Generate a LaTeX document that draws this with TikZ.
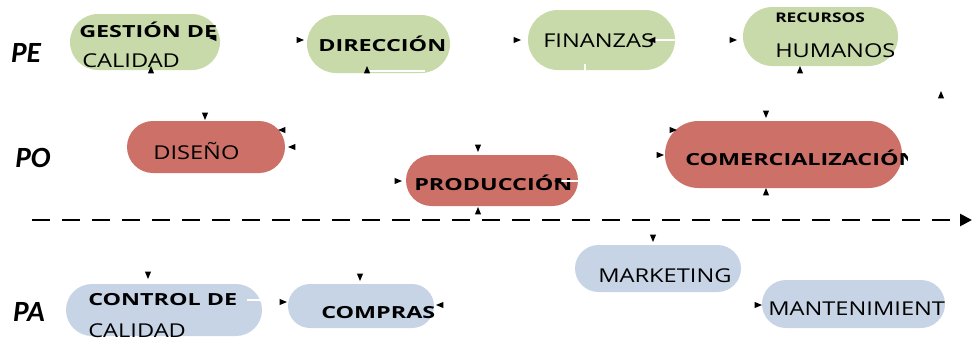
\documentclass[tikz,border=0pt]{standalone}
\usepackage{fontspec}
\setmainfont{Open Sans}
\newfontfamily\lanefont{Carlito}
\usetikzlibrary{shapes.misc,arrows.meta}
\definecolor{peGreen}{RGB}{200,218,170}
\definecolor{poRed}{RGB}{204,112,104}
\definecolor{paBlue}{RGB}{199,212,229}
\begin{document}
\begin{tikzpicture}[x=0.75pt,y=-0.75pt,
  pill/.style={rounded rectangle, draw=none, inner sep=0pt},
  pegreen/.style={pill, fill=peGreen},
  pored/.style={pill, fill=poRed},
  pablue/.style={pill, fill=paBlue},
  lane/.style={font=\lanefont\bfseries\itshape\fontsize{22}{22}\selectfont, inner sep=0pt},
  txt/.style={font=\addfontfeature{FakeStretch=1.24}\fontsize{14.3}{14}\selectfont, inner sep=0pt, anchor=base west},
  btxt/.style={font=\bfseries\addfontfeature{FakeStretch=1.4}\fontsize{12.5}{12}\selectfont, inner sep=0pt, anchor=base west},
  whiteline/.style={draw=white, line width=1.5pt},
  axis/.style={line width=2pt, dash pattern=on 13.5pt off 9pt, -{Triangle[length=9pt,width=9pt]}},
  tipm/.pic={\fill (3pt,0pt) -- (-2.5pt,2.3pt) -- (-2.5pt,-2.3pt) -- cycle;}
]
\useasboundingbox (0,0) rectangle (972,337);

% lane labels
\node[lane] (lPE) at (26,53) {PE};
\node[lane] (lPO) at (33,158) {PO};
\node[lane] (lPA) at (29,312) {PA};

% time axis
\coordinate (axisL) at (32,220);
\coordinate (axisR) at (972,220);
\draw[axis] (axisL) -- (axisR);

% strategic processes
\node[pegreen, minimum width=112.5pt, minimum height=42pt] (gestion) at (145,42) {};
\node[pegreen, minimum width=107.25pt, minimum height=43.5pt] (direccion) at (378.5,44) {};
\node[pegreen, minimum width=110.25pt, minimum height=45pt] (finanzas) at (601.5,40) {};
\node[pegreen, minimum width=116.25pt, minimum height=44.25pt] (recursos) at (820.5,36.5) {};

% operative processes
\node[pored, minimum width=118.5pt, minimum height=39pt] (diseno) at (206,147) {};
\node[pored, minimum width=129pt, minimum height=38.25pt] (produccion) at (492,180.5) {};
\node[pored, minimum width=177.75pt, minimum height=50.25pt] (comercial) at (783.5,154.5) {};

% support processes
\node[pablue, minimum width=147pt, minimum height=39pt] (control) at (164,310) {};
\node[pablue, minimum width=109.5pt, minimum height=33pt] (compras) at (361,306) {};
\node[pablue, minimum width=124.5pt, minimum height=35.25pt] (marketing) at (658,268.5) {};
\node[pablue, minimum width=137.25pt, minimum height=36pt] (manten) at (853.5,304) {};

% labels
\node[btxt] (tGes1) at (79,37) {GESTIÓN DE};
\node[txt] (tGes2) at (82,67) {CALIDAD};
\begin{scope}
  \clip (300,0) rectangle (452,100);
  \node[btxt] (tDir) at (318,51) {DIRECCIÓN};
\end{scope}
\node[txt] (tFin) at (543,47) {FINANZAS};
\node[btxt, font=\bfseries\addfontfeature{FakeStretch=1.3}\fontsize{10}{10}\selectfont] (tRec1) at (775,22) {RECURSOS};
\node[txt] (tRec2) at (775,57) {HUMANOS};
\node[txt] (tDis) at (153,159) {DISEÑO};
\begin{scope}
  \clip (400,150) rectangle (578,210);
  \node[btxt] (tPro) at (414,190) {PRODUCCIÓN};
\end{scope}
\begin{scope}
  \clip (660,110) rectangle (907,200);
  \node[btxt] (tCom) at (685,165) {COMERCIALIZACIÓN};
\end{scope}
\node[btxt] (tCon1) at (88,305) {CONTROL DE};
\node[txt] (tCon2) at (88,337) {CALIDAD};
\node[btxt] (tComp) at (321,318) {COMPRAS};
\node[txt] (tMar) at (598,282) {MARKETING};
\node[txt] (tMan) at (768,315) {MANTENIMIENT};

% white connector stubs
\draw[whiteline] (370,71) -- (425,71);
\draw[whiteline] (650,40) -- (676,40);
\draw[whiteline] (585,64) -- (585,70);
\draw[whiteline] (247,300) -- (262,300);
\draw[whiteline] (560,181) -- (578,181);

% arrow tips
\foreach \px/\py/\ang in {213/38/180, 151/70/90, 300/40/0, 367/70/90, 517/40/0,
    652/40/180, 733/40/0, 800/70/90, 941/95/90, 205/116/270, 282/130/180,
    292/147/180, 398/181/0, 478/148/270, 478/211/90, 558/181/180, 766/114/270,
    673/130/0, 660/155/0, 766/192/90, 148/275/270, 360/277/270, 283/302/0,
    440/305/180, 653/238/270, 758/305/0}
  \pic[rotate=\ang] at (\px,\py) {tipm};
\end{tikzpicture}
\end{document}
